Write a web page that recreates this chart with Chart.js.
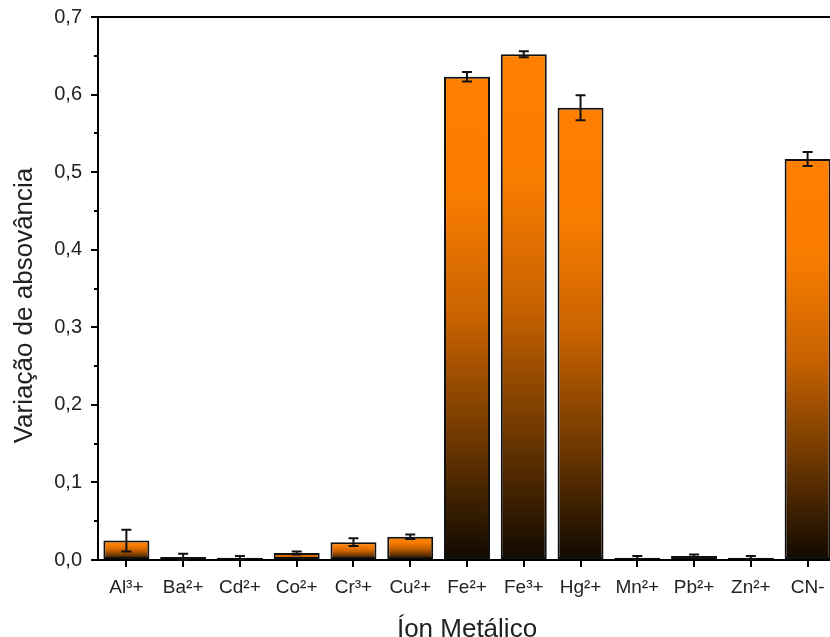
<!DOCTYPE html>
<html>
<head>
<meta charset="utf-8">
<script src="https://cdn.jsdelivr.net/npm/chart.js@4.4.1/dist/chart.umd.min.js"></script>
<style>
  html, body { margin: 0; padding: 0; background: #fff; overflow: hidden; }
  #wrap { width: 842px; height: 637px; position: relative; }
</style>
</head>
<body>
<div id="wrap"><canvas id="ionChart"></canvas></div>
<script>
const ions = ["Al³+", "Ba²+", "Cd²+", "Co²+", "Cr³+", "Cu²+", "Fe²+", "Fe³+", "Hg²+", "Mn²+", "Pb²+", "Zn²+", "CN-"];
const absorbance = [0.025, 0.004, 0.003, 0.009, 0.023, 0.030, 0.623, 0.652, 0.583, 0.003, 0.005, 0.003, 0.517];
const stdDev = [0.014, 0.004, 0.002, 0.002, 0.005, 0.003, 0.006, 0.004, 0.016, 0.002, 0.002, 0.002, 0.009];
const yTicks = [0, 0.1, 0.2, 0.3, 0.4, 0.5, 0.6, 0.7];
const yTitle = "Variação de absovância";

const FONT = "'Liberation Sans', Arial, sans-serif";

// orange on top fading to almost black at the base of each bar
function barGradient(context) {
  const chart = context.chart;
  const y = chart.scales.y;
  if (!y || context.raw == null) return "#FF8000";
  const top = y.getPixelForValue(context.raw);
  const base = y.getPixelForValue(0);
  if (!isFinite(top) || base - top < 1) return "#FF8000";
  const g = chart.ctx.createLinearGradient(0, top, 0, base);
  g.addColorStop(0, "#FF8000");
  g.addColorStop(0.25, "#F87C00");
  g.addColorStop(0.5, "#C86200");
  g.addColorStop(0.75, "#6E3800");
  g.addColorStop(1, "#100900");
  return g;
}

const errorBars = {
  id: "errorBars",
  afterDatasetsDraw(chart) {
    const ctx = chart.ctx;
    const meta = chart.getDatasetMeta(0);
    const y = chart.scales.y;
    ctx.save();
    ctx.strokeStyle = "#111";
    ctx.lineWidth = 2;
    meta.data.forEach((bar, i) => {
      const hi = y.getPixelForValue(absorbance[i] + stdDev[i]);
      const lo = y.getPixelForValue(Math.max(0, absorbance[i] - stdDev[i]));
      const x = bar.x;
      ctx.beginPath();
      ctx.moveTo(x, hi); ctx.lineTo(x, lo);
      ctx.moveTo(x - 5, hi); ctx.lineTo(x + 5, hi);
      ctx.moveTo(x - 5, lo); ctx.lineTo(x + 5, lo);
      ctx.stroke();
    });
    ctx.restore();
  }
};

// frame line on top, minor ticks on the y axis and the y title
const frame = {
  id: "frame",
  afterDraw(chart) {
    const { ctx, chartArea } = chart;
    const y = chart.scales.y;
    ctx.save();
    ctx.strokeStyle = "#000";
    ctx.lineWidth = 2;
    ctx.beginPath();
    ctx.moveTo(chartArea.left - 1, chartArea.top);
    ctx.lineTo(chartArea.right, chartArea.top);
    for (let k = 0; k < yTicks.length - 1; k++) {
      const py = Math.round(y.getPixelForValue((yTicks[k] + yTicks[k + 1]) / 2));
      ctx.moveTo(chartArea.left, py);
      ctx.lineTo(chartArea.left - 4, py);
    }
    ctx.stroke();

    ctx.translate(25, (chartArea.top + chartArea.bottom) / 2 + 17);
    ctx.rotate(-Math.PI / 2);
    ctx.fillStyle = "#222";
    ctx.font = "26px " + FONT;
    ctx.textAlign = "center";
    ctx.textBaseline = "middle";
    ctx.fillText(yTitle, 0, 0);
    ctx.restore();
  }
};

new Chart(document.getElementById("ionChart"), {
  type: "bar",
  data: {
    labels: ions,
    datasets: [{
      data: absorbance,
      backgroundColor: barGradient,
      borderColor: "#111",
      borderWidth: 2,
      borderSkipped: false,
      categoryPercentage: 1,
      barPercentage: 0.81
    }]
  },
  options: {
    responsive: true,
    maintainAspectRatio: false,
    animation: false,
    layout: { padding: { top: 17, right: 6, left: 0, bottom: 0 } },
    plugins: {
      legend: { display: false },
      tooltip: { enabled: false }
    },
    scales: {
      x: {
        grid: { display: true, drawOnChartArea: false, drawTicks: true, tickLength: 7, color: "#000", lineWidth: 2, offset: false },
        border: { display: true, color: "#000", width: 2 },
        ticks: { color: "#222", font: { family: FONT, size: 19 }, padding: 9, maxRotation: 0, autoSkip: false },
        title: { display: true, text: "Íon Metálico", color: "#222", font: { family: FONT, size: 26 }, padding: { top: 0, bottom: -8 } },
        afterFit(scale) { scale.height = 77; }
      },
      y: {
        min: 0,
        max: 0.7,
        afterBuildTicks(scale) { scale.ticks = yTicks.map(v => ({ value: v })); },
        grid: { display: true, drawOnChartArea: false, drawTicks: true, tickLength: 7, color: "#000", lineWidth: 2 },
        border: { display: true, color: "#000", width: 2 },
        ticks: {
          color: "#222",
          font: { family: FONT, size: 20 },
          padding: 9,
          callback: v => v.toFixed(1).replace(".", ",")
        },
        title: { display: false },
        afterFit(scale) { scale.width = 98; scale.paddingTop = 0; scale.paddingBottom = 0; }
      }
    }
  },
  plugins: [errorBars, frame]
});
</script>
</body>
</html>
